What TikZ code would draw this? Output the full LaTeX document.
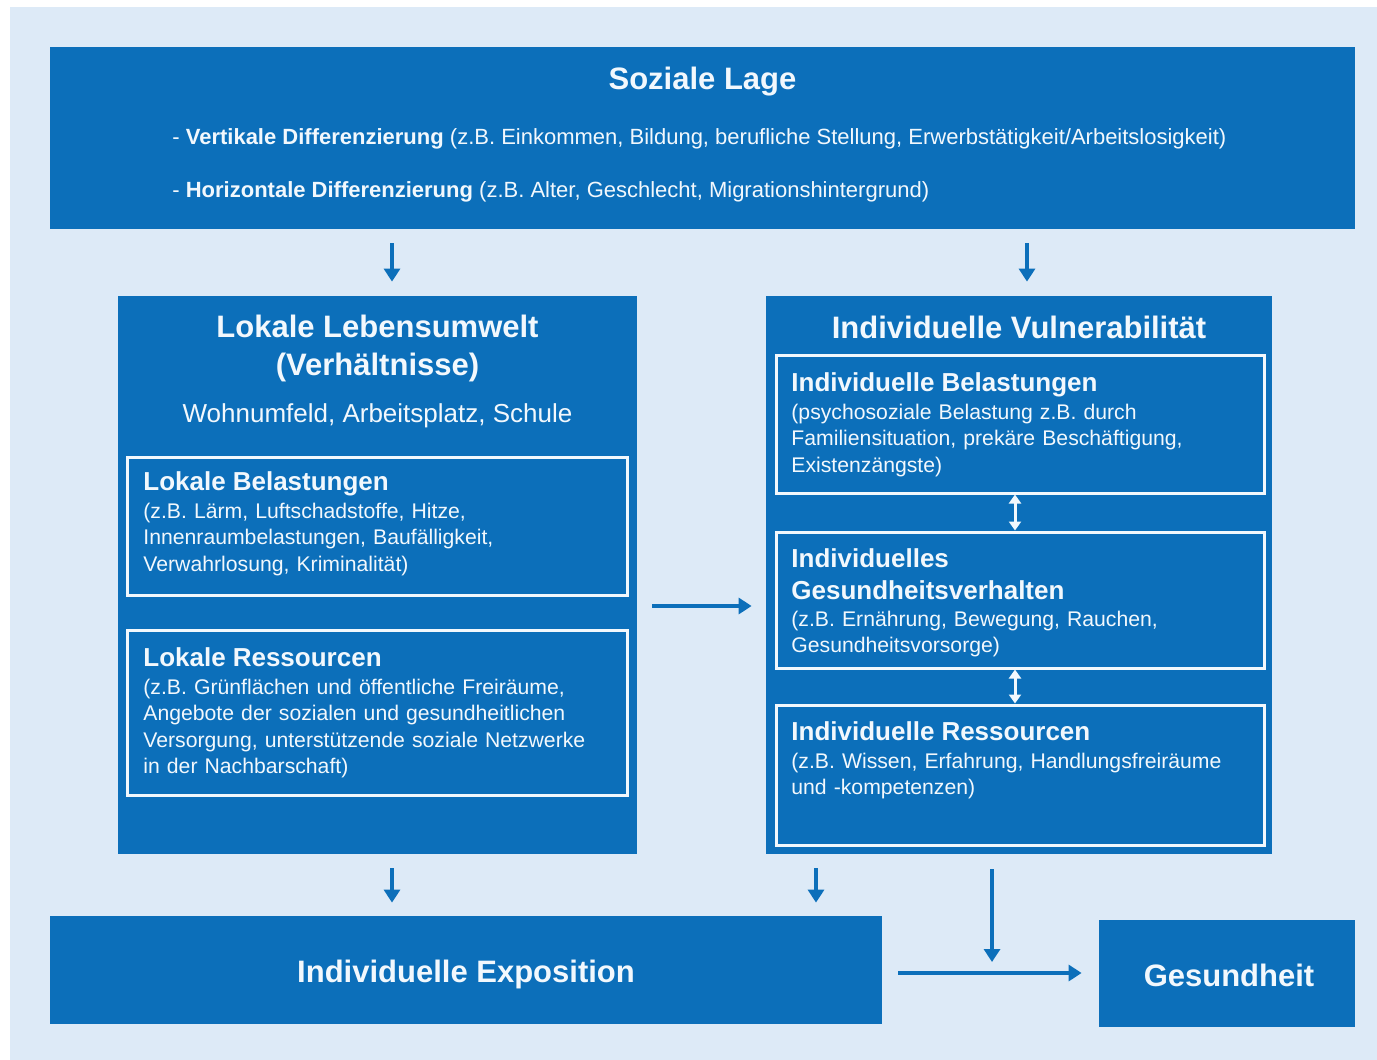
\documentclass[tikz,border=0pt]{standalone}
\usepackage{fontspec}
\setmainfont{Liberation Sans}
\usepackage{tikz}
\usetikzlibrary{arrows.meta}

\definecolor{bgblue}{RGB}{221,234,247}
\definecolor{boxblue}{RGB}{12,111,186}
\definecolor{txtwhite}{RGB}{242,248,253}

\tikzset{
  box/.style={rectangle, fill=boxblue, inner sep=0pt},
  frame/.style={rectangle, draw=txtwhite, line width=1.5pt, inner sep=0pt},
  title/.style={text=txtwhite, align=center, inner sep=0pt, font=\fontsize{15.5}{19}\selectfont\bfseries},
  body/.style={text=txtwhite, anchor=north west, inner sep=0pt, text width=300pt, align=left, font=\fontsize{10.6}{13.25}\selectfont},
  line/.style={text=txtwhite, anchor=west, inner sep=0pt, font=\fontsize{11}{13}\selectfont},
  arr/.style={draw=boxblue, line width=2pt, -{Triangle[width=8pt,length=6.5pt]}},
  darr/.style={draw=txtwhite, line width=1.5pt, {Triangle[width=6pt,length=4.5pt]}-{Triangle[width=6pt,length=4.5pt]}}
}
\newcommand{\hd}{\fontsize{13}{14}\selectfont\bfseries}

\begin{document}
\begin{tikzpicture}[x=0.5pt, y=-0.5pt]
  \useasboundingbox (0,0) rectangle (1377,1060);
  \fill[white] (0,0) rectangle (1377,1060);
  \fill[bgblue] (10,7) rectangle (1377,1060);

  % Soziale Lage
  \node[box, minimum width=652.5pt, minimum height=91pt] (soz) at (702.5,138) {};
  \node[title] (soz-t) at (702.5,82) {Soziale Lage};
  \node[line] (vert) at (172,139) {- \textbf{Vertikale Differenzierung} (z.B. Einkommen, Bildung, berufliche Stellung, Erwerbstätigkeit/Arbeitslosigkeit)};
  \node[line] (hori) at (172,192) {- \textbf{Horizontale Differenzierung} (z.B. Alter, Geschlecht, Migrationshintergrund)};

  % Lokale Lebensumwelt
  \node[box, minimum width=259.5pt, minimum height=279pt] (lok) at (377.5,575) {};
  \node[title] (lok-t) at (377.5,348) {Lokale Lebensumwelt\\(Verhältnisse)};
  \node[text=txtwhite, font=\fontsize{13}{15}\selectfont, inner sep=0pt] (lok-s) at (377.5,416) {Wohnumfeld,  Arbeitsplatz,  Schule};
  \node[frame, minimum width=250pt, minimum height=69pt] (lb1) at (377,526) {};
  \node[body] (lb1-t) at (143,471) {{\hd Lokale Belastungen}\\[0.75pt]
    (z.B. Lärm,  Luftschadstoffe,  Hitze,\\
    Innenraumbelastungen,  Baufälligkeit,\\
    Verwahrlosung,  Kriminalität)};
  \node[frame, minimum width=250pt, minimum height=82.5pt] (lb2) at (377,712.5) {};
  \node[body] (lb2-t) at (143,647) {{\hd Lokale Ressourcen}\\[0.75pt]
    (z.B. Grünflächen und öffentliche Freiräume,\\
    Angebote der sozialen und gesundheitlichen\\
    Versorgung,  unterstützende soziale Netzwerke\\
    in der Nachbarschaft)};

  % Individuelle Vulnerabilitaet
  \node[box, minimum width=253pt, minimum height=279pt] (vul) at (1019,575) {};
  \node[title] (vul-t) at (1019,327) {Individuelle Vulnerabilität};
  \node[frame, minimum width=244pt, minimum height=69pt] (ib1) at (1020,424) {};
  \node[body] (ib1-t) at (791,372) {{\hd Individuelle  Belastungen}\\[0.75pt]
    (psychosoziale Belastung z.B. durch\\
    Familiensituation,  prekäre  Beschäftigung,\\
    Existenzängste)};
  \node[frame, minimum width=244pt, minimum height=68pt] (ib2) at (1020,600) {};
  \node[body] (ib2-t) at (791,548) {{\hd Individuelles}\\[2.75pt]
    {\hd Gesundheitsverhalten}\\[0.25pt]
    (z.B. Ernährung,  Bewegung,  Rauchen,\\
    Gesundheitsvorsorge)};
  \node[frame, minimum width=244pt, minimum height=70pt] (ib3) at (1020,775) {};
  \node[body] (ib3-t) at (791,721) {{\hd Individuelle  Ressourcen}\\[0.75pt]
    (z.B. Wissen,  Erfahrung,  Handlungsfreiräume\\
    und -kompetenzen)};

  % Ergebnis
  \node[box, minimum width=416pt, minimum height=54pt] (expo) at (466,970) {};
  \node[title] (expo-t) at (466,974) {Individuelle Exposition};
  \node[box, minimum width=128pt, minimum height=53.5pt] (ges) at (1227,973.5) {};
  \node[title] (ges-t) at (1229,975) {Gesundheit};

  % Pfeile
  \draw[arr, shorten <=7pt, shorten >=7pt] ([xshift=7.25pt]lok.north |- soz.south) -- ([xshift=7.25pt]lok.north);
  \draw[arr, shorten <=7pt, shorten >=7pt] ([xshift=4pt]vul.north |- soz.south) -- ([xshift=4pt]vul.north);
  \draw[arr, shorten <=7.5pt, shorten >=7pt] ([yshift=-15.5pt]lok.east) -- ([yshift=-15.5pt]lok.east -| vul.west);
  \draw[darr] ([xshift=-2.5pt]ib1.south) -- ([xshift=-2.5pt]ib1.south |- ib2.north);
  \draw[darr] ([xshift=-2.5pt]ib2.south) -- ([xshift=-2.5pt]ib2.south |- ib3.north);
  \draw[arr, shorten <=7pt, shorten >=6.5pt] ([xshift=7.25pt]lok.south) -- ([xshift=7.25pt]lok.south |- expo.north);
  \draw[arr, shorten <=7pt, shorten >=6.5pt] ([xshift=-101.5pt]vul.south) -- ([xshift=-101.5pt]vul.south |- expo.north);
  \draw[arr, shorten <=8pt, shorten >=8.5pt] ([yshift=-1.5pt]expo.east) -- coordinate[pos=0.507] (join) ([yshift=-1.5pt]expo.east -| ges.west);
  \draw[arr, shorten <=7.5pt, shorten >=5.5pt] (vul.south -| join) -- (join);
\end{tikzpicture}
\end{document}
